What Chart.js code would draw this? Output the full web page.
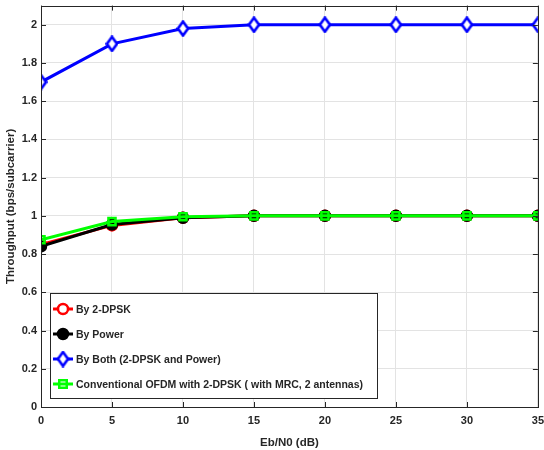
<!DOCTYPE html>
<html>
<head>
<meta charset="utf-8">
<script src="https://cdn.jsdelivr.net/npm/chart.js@4"></script>
<style>
  html, body { margin: 0; padding: 0; background: #fff; overflow: hidden; }
  #wrap { width: 544px; height: 450px; overflow: hidden; position: relative; }
  #c { position: absolute; left: 0; top: -5px; }
</style>
</head>
<body>
<div id="wrap"><canvas id="c" width="551" height="455"></canvas></div>
<script>
const ebn0 = [0, 5, 10, 15, 20, 25, 30, 35];
const byDpsk = [0.85, 0.95, 0.99, 1.0, 1.0, 1.0, 1.0, 1.0];
const byPower = [0.84, 0.955, 0.99, 1.0, 1.0, 1.0, 1.0, 1.0];
const byBoth = [1.7, 1.9, 1.98, 2.0, 2.0, 2.0, 2.0, 2.0];
const conventional = [0.875, 0.97, 0.995, 1.0, 1.0, 1.0, 1.0, 1.0];
const seriesNames = [
  'By 2-DPSK',
  'By Power',
  'By Both (2-DPSK and Power)',
  'Conventional OFDM with 2-DPSK ( with MRC, 2 antennas)'
];
const yTicks = [0, 0.2, 0.4, 0.6, 0.8, 1, 1.2, 1.4, 1.6, 1.8, 2];

const FONT = '"Liberation Sans", Arial, Helvetica, sans-serif';
const TXT = '#262626';

const pts = (ys) => ys.map((y, i) => ({ x: ebn0[i], y }));

// matlab style narrow diamond
const diamond = (() => {
  const c = document.createElement('canvas');
  c.width = 13; c.height = 17;
  const g = c.getContext('2d');
  g.strokeStyle = '#0000ff';
  g.fillStyle = '#ffffff';
  g.lineWidth = 2.6;
  g.beginPath();
  g.moveTo(6.5, 1.5); g.lineTo(11.5, 8.5); g.lineTo(6.5, 15.5); g.lineTo(1.5, 8.5);
  g.closePath();
  g.fill(); g.stroke();
  return c;
})();

// order: lower number is drawn on top
const makeSet = (label, ys, color, style, radius, fill, order) => ({
  label,
  data: pts(ys),
  order,
  borderColor: color,
  backgroundColor: fill,
  borderWidth: 3,
  pointStyle: style,
  pointRadius: radius,
  pointBorderWidth: 2.5,
  pointBackgroundColor: fill,
  pointBorderColor: color,
  tension: 0,
});

// box around plot, inward ticks and legend in the lower-left corner
const matlabLook = {
  id: 'matlabLook',
  afterDatasetsDraw(chart) {
    const { ctx, chartArea: a, scales } = chart;
    ctx.save();
    ctx.strokeStyle = '#262626';
    ctx.lineWidth = 1;
    ctx.beginPath();
    scales.x.ticks.forEach((t) => {
      const px = Math.round(scales.x.getPixelForValue(t.value)) + 0.5;
      ctx.moveTo(px, a.bottom); ctx.lineTo(px, a.bottom - 5);
      ctx.moveTo(px, a.top); ctx.lineTo(px, a.top + 5);
    });
    scales.y.ticks.forEach((t) => {
      const py = Math.round(scales.y.getPixelForValue(t.value)) + 0.5;
      ctx.moveTo(a.left, py); ctx.lineTo(a.left + 5, py);
      ctx.moveTo(a.right, py); ctx.lineTo(a.right - 5, py);
    });
    ctx.stroke();
    ctx.strokeRect(Math.round(a.left) + 0.5, Math.round(a.top) + 0.5,
      Math.round(a.right - a.left), Math.round(a.bottom - a.top));

    // legend
    const bx = a.left + 9, by = a.bottom - 114, bw = 327, bh = 105;
    ctx.fillStyle = '#fff';
    ctx.fillRect(bx, by, bw, bh);
    ctx.strokeStyle = '#262626';
    ctx.strokeRect(bx + 0.5, by + 0.5, bw, bh);
    ctx.font = 'bold 10.5px ' + FONT;
    ctx.textBaseline = 'middle';
    chart.data.datasets.forEach((ds, i) => {
      const cy = by + 16 + i * 25;
      ctx.strokeStyle = ds.borderColor;
      ctx.lineWidth = 3;
      ctx.beginPath();
      ctx.moveTo(bx + 3, cy); ctx.lineTo(bx + 23, cy);
      ctx.stroke();
      if (ds.pointStyle instanceof HTMLCanvasElement) {
        ctx.drawImage(ds.pointStyle, bx + 13 - ds.pointStyle.width / 2, cy - ds.pointStyle.height / 2);
      } else {
        ctx.fillStyle = ds.pointBackgroundColor;
        ctx.strokeStyle = ds.pointBorderColor;
        ctx.lineWidth = ds.pointBorderWidth;
        ctx.beginPath();
        drawMarker(ctx, ds.pointStyle, ds.pointRadius, bx + 13, cy);
      }
      ctx.fillStyle = TXT;
      ctx.fillText(ds.label, bx + 26, cy + 1);
    });
    ctx.restore();
  }
};

function drawMarker(ctx, style, r, x, y) {
  if (style === 'circle') {
    ctx.arc(x, y, r, 0, Math.PI * 2);
  } else {
    ctx.rect(x - r * 0.75, y - r * 0.75, r * 1.5, r * 1.5);
  }
  ctx.fill();
  ctx.stroke();
}

new Chart(document.getElementById('c'), {
  type: 'line',
  data: {
    datasets: [
      makeSet(seriesNames[0], byDpsk, '#ff0000', 'circle', 5, '#ffffff', 3),
      makeSet(seriesNames[1], byPower, '#000000', 'circle', 5, '#000000', 2),
      makeSet(seriesNames[2], byBoth, '#0000ff', diamond, 7, '#ffffff', 1),
      makeSet(seriesNames[3], conventional, '#00ff00', 'rect', 5, 'rgba(0,0,0,0)', 0),
    ],
  },
  options: {
    responsive: false,
    animation: false,
    layout: { padding: { top: 0, right: 0, left: 4, bottom: 0 } },
    plugins: { legend: { display: false }, tooltip: { enabled: false } },
    scales: {
      x: {
        type: 'linear',
        min: 0,
        max: 35,
        ticks: { stepSize: 5, color: TXT, font: { family: FONT, size: 11, weight: 'bold' }, padding: 7, maxRotation: 0 },
        grid: { color: '#e3e3e3', tickLength: 0 },
        border: { display: false },
        title: { display: true, text: 'Eb/N0 (dB)', color: TXT, font: { family: FONT, size: 11.5, weight: 'bold' }, padding: { top: 1, bottom: 0 } },
        afterFit: (s) => { s.height = 43; },
      },
      y: {
        min: 0,
        max: 2.1,
        afterBuildTicks: (s) => { s.ticks = yTicks.map((v) => ({ value: v })); },
        ticks: {
          color: TXT,
          font: { family: FONT, size: 11, weight: 'bold' },
          padding: 4,
          callback: (v) => String(+(+v).toFixed(1)),
        },
        grid: { color: '#e3e3e3', tickLength: 0 },
        border: { display: false },
        title: { display: true, text: 'Throughput (bps/subcarrier)', color: TXT, font: { family: FONT, size: 11.5, weight: 'bold' }, padding: { top: 0, bottom: 2 } },
        afterFit: (s) => { s.width = 37; },
      },
    },
  },
  plugins: [matlabLook],
});
</script>
</body>
</html>
